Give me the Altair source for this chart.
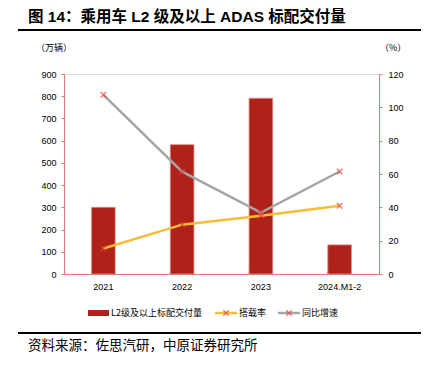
import altair as alt
import pandas as pd

years = ["2021", "2022", "2023", "2024.M1-2"]
volume = [300, 582, 791, 131]          # 万辆
rate = [15.3, 29.6, 35.0, 41.0]        # 搭载率 %
growth = [107.5, 61.4, 36.8, 61.5]     # 同比增速 %

left_ticks = list(range(0, 901, 100))
right_ticks = list(range(0, 121, 20))

BAR = "#ae2219"
YEL = "#f7bd38"
GRY = "#a5a5a5"
MRK = "#e8413b"
AX = "#e07a7a"
FONT = "Liberation Sans"
CJK = "Noto Sans CJK SC"
XSHAPE = "M-1,-1L1,1M-1,1L1,-1"

bars_df = pd.DataFrame({"year": years, "v": volume})
lines_df = pd.DataFrame({
    "year": years * 2,
    "series": ["搭载率"] * 4 + ["同比增速"] * 4,
    "p": rate + growth,
})
tick_df = pd.DataFrame({"year": years[1:]})

xscale = alt.Scale(domain=years, paddingInner=0.7, paddingOuter=0.35)
xaxis = alt.Axis(title=None, labelAngle=0, ticks=False, domainColor=AX, domainWidth=1,
                 labelFont=FONT, labelFontSize=9, labelColor="#000", labelPadding=8)

bars = alt.Chart(bars_df).mark_bar(color=BAR, stroke="#e08a84", strokeWidth=0.8).encode(
    x=alt.X("year:N", scale=xscale, axis=xaxis, sort=years),
    y=alt.Y("v:Q", scale=alt.Scale(domain=[0, 900], nice=False),
            axis=alt.Axis(title=None, values=left_ticks, grid=False, domainColor=AX,
                          tickColor=AX, tickSize=3, labelFont=FONT, labelFontSize=9,
                          labelColor="#000", labelPadding=5, labelOverlap=False)),
)

xticks = alt.Chart(tick_df).mark_rule(color=AX, strokeWidth=1).encode(
    x=alt.X("year:N", bandPosition=0, scale=xscale, sort=years),
    y=alt.value(197), y2=alt.value(200),
)

cscale = alt.Scale(domain=["搭载率", "同比增速"], range=[YEL, GRY])
rscale = alt.Scale(domain=[0, 120], nice=False)
raxis = alt.Axis(title=None, orient="right", values=right_ticks, grid=False,
                 domainColor=AX, tickColor=AX, tickSize=3, labelFont=FONT,
                 labelFontSize=9, labelColor="#000", labelPadding=6,
                 labelOverlap=False, tickCount=7)
lines = alt.Chart(lines_df).mark_line(strokeWidth=2.5).encode(
    x=alt.X("year:N", scale=xscale, sort=years),
    y=alt.Y("p:Q", scale=rscale, axis=raxis),
    color=alt.Color("series:N", scale=cscale, legend=None),
    detail="series:N",
)
pts = alt.Chart(lines_df).mark_point(shape=XSHAPE, size=30, color=MRK, strokeWidth=1.4,
                                     filled=False).encode(
    x=alt.X("year:N", scale=xscale, sort=years),
    y=alt.Y("p:Q", scale=rscale, axis=raxis),
)

main = alt.layer(bars, xticks, alt.layer(lines, pts)).resolve_scale(y="independent")

def txt(s, x, y, size, font=CJK, weight="normal", align="left"):
    return alt.Chart(pd.DataFrame({"t": [s]})).mark_text(
        font=font, fontSize=size, fontWeight=weight, align=align, baseline="middle",
        color="#000").encode(x=alt.value(x), y=alt.value(y), text="t:N")

one = pd.DataFrame({"a": [0]})

def hrule(x1, x2, y, color, w):
    return alt.Chart(one).mark_rule(color=color, strokeWidth=w).encode(
        x=alt.value(x1), x2=alt.value(x2), y=alt.value(y))

title = txt("图 14：乘用车 L2 级及以上 ADAS 标配交付量", -36, -57, 15.5,
            font="Liberation Sans, Noto Sans CJK SC", weight="bold")
top_rule = hrule(-46, 357, -44, "#000", 2)
unit_l = txt("（万辆）", -28, -26, 9)
unit_r = txt("（%）", 316, -26, 9)

ly = 239
leg_bar = alt.Chart(one).mark_rect(color=BAR).encode(
    x=alt.value(24), x2=alt.value(45), y=alt.value(ly - 3), y2=alt.value(ly + 3))
leg_t1 = txt("L2级及以上标配交付量", 47, ly, 9)
leg_l2 = hrule(151, 173, ly, YEL, 2.5)
leg_p2 = alt.Chart(one).mark_point(shape=XSHAPE, size=30, color=MRK, strokeWidth=1.4).encode(
    x=alt.value(162), y=alt.value(ly))
leg_t2 = txt("搭载率", 175, ly, 9)
leg_l3 = hrule(214, 236, ly, GRY, 2.5)
leg_p3 = alt.Chart(one).mark_point(shape=XSHAPE, size=30, color=MRK, strokeWidth=1.4).encode(
    x=alt.value(225), y=alt.value(ly))
leg_t3 = txt("同比增速", 238, ly, 9)

bot_rule = hrule(-46, 357, 259, "#000", 2)
source = txt("资料来源：佐思汽研，中原证券研究所", -36, 272, 13.5)

chart = alt.layer(
    main, title, top_rule, unit_l, unit_r,
    leg_bar, leg_t1, leg_l2, leg_p2, leg_t2, leg_l3, leg_p3, leg_t3,
    bot_rule, source,
).properties(
    width=315, height=200,
    autosize=alt.AutoSizeParams(type="none"),
    padding={"left": 56, "top": 66, "right": 43, "bottom": 87},
).configure_view(stroke=None).configure(background="white")

chart.save("out.html", embed_options={"renderer": "svg", "actions": False})
